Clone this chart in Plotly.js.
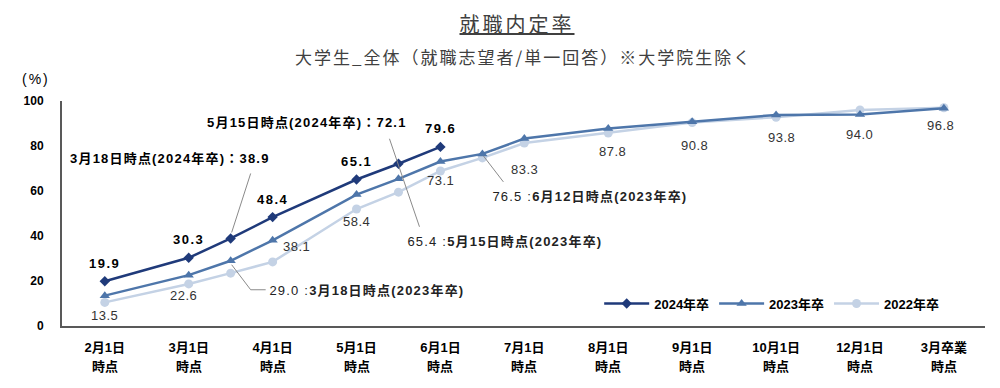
<!DOCTYPE html>
<html><head><meta charset="utf-8">
<script src="https://cdn.plot.ly/plotly-3.0.1.min.js"></script>
<style>html,body{margin:0;padding:0;background:#fff}#chart{width:1000px;height:388px}</style>
</head><body><div id="chart"></div>
<script>
// ---------- data ----------
const categories = ['2月1日','3月1日','4月1日','5月1日','6月1日','7月1日','8月1日','9月1日','10月1日','12月1日','3月卒業'];
const tickSuffix = '時点';
const midDates = {'3月18日':['3月1日','4月1日'], '5月15日':['5月1日','6月1日'], '6月12日':['6月1日','7月1日']};
const dates2024 = ['2月1日','3月1日','3月18日','4月1日','5月1日','5月15日','6月1日'];
const values2024 = [19.9,30.3,38.9,48.4,65.1,72.1,79.6];
const dates2023 = ['2月1日','3月1日','3月18日','4月1日','5月1日','5月15日','6月1日','6月12日','7月1日','8月1日','9月1日','10月1日','12月1日','3月卒業'];
const values2023 = [13.5,22.6,29.0,38.1,58.4,65.4,73.1,76.5,83.3,87.8,90.8,93.8,94.0,96.8];
const dates2022 = ['2月1日','3月1日','3月18日','4月1日','5月1日','5月15日','6月1日','6月12日','7月1日','8月1日','9月1日','10月1日','12月1日','3月卒業'];
const values2022 = [10.5,18.7,23.5,28.5,52.0,59.5,68.9,74.7,81.3,85.8,90.4,92.8,96.0,97.0];
const seriesNames = ['2024年卒','2023年卒','2022年卒'];
const yTicks = [0,20,40,60,80,100];
const titleText = '就職内定率';
const subtitleText = '大学生_全体（就職志望者/単一回答）※大学院生除く';
const unitText = '(%)';

// ---------- helpers ----------
function pos(d){
  const i = categories.indexOf(d);
  if (i >= 0) return i;
  const pr = midDates[d];
  return (categories.indexOf(pr[0]) + categories.indexOf(pr[1])) / 2;
}
const FONT = "Liberation Sans, 'Noto Sans CJK JP', sans-serif";
const C24 = '#1f3a7a', C23 = '#4e76aa', C22 = '#c4d2e5';

const traces = [
  {name: seriesNames[2], x: dates2022.map(pos), y: values2022, type:'scatter', mode:'lines+markers',
   line:{color:C22, width:2.5}, marker:{symbol:'circle', size:9, color:C22}},
  {name: seriesNames[1], x: dates2023.map(pos), y: values2023, type:'scatter', mode:'lines+markers',
   line:{color:C23, width:2.5}, marker:{symbol:'triangle-up', size:9, color:C23}},
  {name: seriesNames[0], x: dates2024.map(pos), y: values2024, type:'scatter', mode:'lines+markers',
   line:{color:C24, width:2.5}, marker:{symbol:'diamond', size:8, color:C24}}
];

const annotations = [];
const spacing = {}; // annotation index -> letter-spacing
function addAnn(a, ls){ if (ls) spacing[annotations.length] = ls; annotations.push(a); }

// title & subtitle
addAnn({text:'<u>'+titleText+'</u>', xref:'paper', yref:'paper', x:0.493, y:1.343, xanchor:'center', yanchor:'middle',
  showarrow:false, font:{family:"'Noto Sans CJK JP', sans-serif", size:20, color:'#404040'}}, 3);
addAnn({text:subtitleText, xref:'paper', yref:'paper', x:0.500, y:1.196, xanchor:'center', yanchor:'middle',
  showarrow:false, font:{family:"'Noto Sans CJK JP', sans-serif", size:17, color:'#404040'}}, 2);
addAnn({text:unitText, xref:'paper', yref:'paper', x:-0.028, y:1.098, xanchor:'center', yanchor:'middle',
  showarrow:false, font:{family:FONT, size:14, color:'#000'}}, 2);

// second line of x tick labels
categories.forEach((c,i)=>addAnn({text:tickSuffix, xref:'x', yref:'paper', x:i, y:-0.182, xanchor:'center', yanchor:'middle',
  showarrow:false, font:{family:FONT, size:13, color:'#000', weight:'bold'}}));

// 2024 value labels (main dates only)
dates2024.forEach((d,i)=>{
  if (categories.indexOf(d) < 0) return;
  addAnn({text:values2024[i].toFixed(1), x:pos(d), y:values2024[i], yshift:18, showarrow:false,
    xanchor:'center', yanchor:'middle', font:{family:FONT, size:13, color:'#000', weight:'bold'}}, 1.5);
});
// 2023 value labels
const off23 = {'2月1日':[0,-20],'3月1日':[-5,-20],'4月1日':[24,-6],'5月1日':[0,-27],'6月1日':[0,-19],'7月1日':[0,-31],
  '8月1日':[4,-23],'9月1日':[2,-24],'10月1日':[5,-23],'12月1日':[0,-20],'3月卒業':[-3,-17]};
dates2023.forEach((d,i)=>{
  if (categories.indexOf(d) < 0) return;
  const o = off23[d];
  addAnn({text:values2023[i].toFixed(1), x:pos(d), y:values2023[i], xshift:o[0], yshift:o[1], showarrow:false,
    xanchor:'center', yanchor:'middle', font:{family:FONT, size:13, color:'#333'}}, 0.5);
});

// call-outs for intermediate dates
function val(dates, vals, d){ return vals[dates.indexOf(d)]; }
const callouts = [
  {d:'3月18日', dates:dates2024, vals:values2024, yr:'2024年卒', mode:24, dx:-151, dy:80},
  {d:'5月15日', dates:dates2024, vals:values2024, yr:'2024年卒', mode:24, dx:-181, dy:41},
  {d:'3月18日', dates:dates2023, vals:values2023, yr:'2023年卒', mode:23, dx:49, dy:-30},
  {d:'5月15日', dates:dates2023, vals:values2023, yr:'2023年卒', mode:23, dx:20, dy:-63},
  {d:'6月12日', dates:dates2023, vals:values2023, yr:'2023年卒', mode:23, dx:21, dy:-43}
];
callouts.forEach(c=>{
  const v = val(c.dates, c.vals, c.d);
  const txt = c.mode===24 ? '<b>'+c.d+'時点('+c.yr+')：'+v.toFixed(1)+'</b>'
                          : v.toFixed(1)+' :<b>'+c.d+'時点('+c.yr+')</b>';
  addAnn({text:txt, x:pos(c.d), y:v, xshift:c.dx, yshift:c.dy, showarrow:false, xanchor:'left', yanchor:'middle',
    font:{family:FONT, size:13, color: c.mode===24 ? '#000' : '#222'}}, 1.2);
});

// leader lines anchored at their data points (pixel offsets)
const LC = '#8a8a8a';
const shapes = [];
function leader(d, dates, vals, segs){
  segs.forEach(s=>shapes.push({type:'line', xref:'x', yref:'y', xsizemode:'pixel', ysizemode:'pixel',
    xanchor:pos(d), yanchor:val(dates, vals, d), x0:s[0], y0:s[1], x1:s[2], y1:s[3], line:{color:LC, width:1}}));
}
leader('3月18日', dates2024, values2024, [[1,6,20,65]]);
leader('5月15日', dates2024, values2024, [[-9,25,21,-63]]);
leader('3月18日', dates2023, values2023, [[1,-4,20,-29],[20,-29,35,-29]]);
leader('6月12日', dates2023, values2023, [[1,-2,21,-28]]);

// letter-spacing css
let css = '';
Object.keys(spacing).forEach(k=>{ css += 'g.annotation[data-index="'+k+'"] text{letter-spacing:'+spacing[k]+'px}\n'; });
const st = document.createElement('style'); st.textContent = css; document.head.appendChild(st);

const layout = {
  width:1000, height:388,
  margin:{l:62, r:15, t:101, b:62},
  paper_bgcolor:'#fff', plot_bgcolor:'#fff',
  showlegend:true,
  legend:{orientation:'h', x:0.582, xanchor:'left', y:0.1, yanchor:'middle', traceorder:'reversed',
    font:{family:FONT, size:13, color:'#000', weight:'bold'}, bgcolor:'rgba(0,0,0,0)', itemwidth:45},
  xaxis:{range:[-0.51,10.49], tickvals:categories.map((c,i)=>i), ticktext:categories, showgrid:false, zeroline:false,
    showline:true, linecolor:'#595959', linewidth:2, ticks:'', ticklabelstandoff:8,
    tickfont:{family:FONT, size:13, color:'#000', weight:'bold'}},
  yaxis:{range:[0,100], tickvals:yTicks, showgrid:false, zeroline:false, showline:true, linecolor:'#595959', linewidth:2,
    ticks:'', ticklabelstandoff:14, tickfont:{family:FONT, size:12, color:'#000', weight:'bold'}},
  annotations: annotations,
  shapes: shapes
};
Plotly.newPlot('chart', traces, layout, {displayModeBar:false, staticPlot:true});
</script></body></html>
